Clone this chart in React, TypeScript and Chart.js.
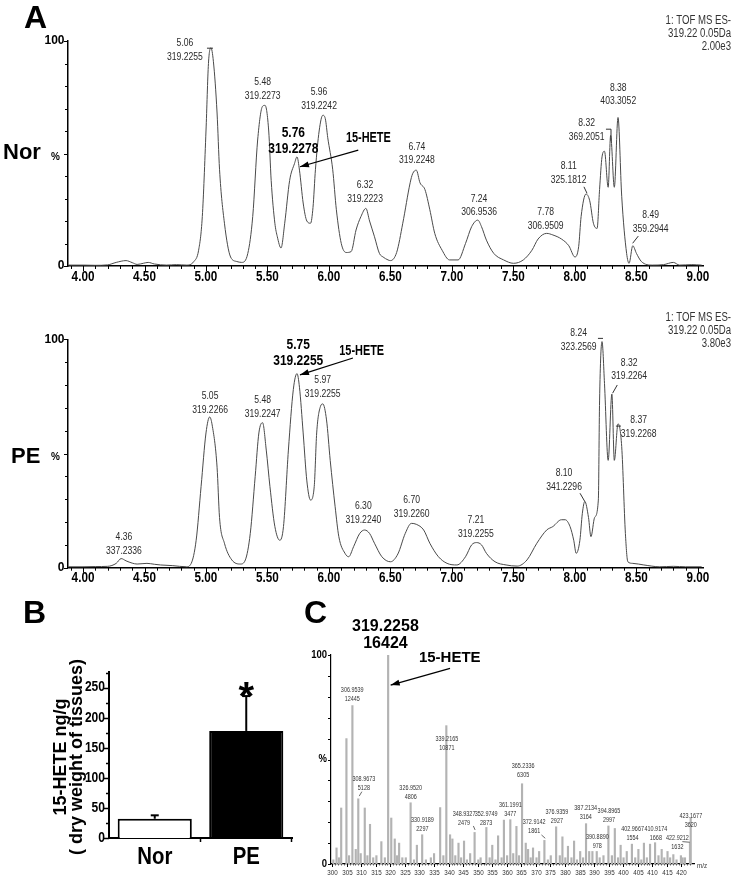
import React, { useEffect, useRef } from 'react';
import { Chart, registerables } from 'chart.js';

Chart.register(...registerables);

const FONT = 'Arial, "Liberation Sans", Helvetica, sans-serif';

// ---------------- Panel A : extracted ion chromatograms ----------------
const norTime = [3.88, 4.0, 4.1, 4.2, 4.27, 4.35, 4.4, 4.44, 4.49, 4.53, 4.58, 4.68, 4.76, 4.84, 4.9, 4.94, 4.97, 5.0, 5.02, 5.04, 5.06, 5.09, 5.11, 5.15, 5.2, 5.25, 5.29, 5.34, 5.38, 5.42, 5.46, 5.48, 5.51, 5.53, 5.56, 5.58, 5.61, 5.64, 5.68, 5.72, 5.74, 5.76, 5.79, 5.82, 5.85, 5.87, 5.89, 5.92, 5.95, 5.97, 5.99, 6.03, 6.06, 6.1, 6.14, 6.18, 6.22, 6.26, 6.3, 6.33, 6.37, 6.41, 6.44, 6.48, 6.5, 6.55, 6.6, 6.66, 6.68, 6.71, 6.74, 6.78, 6.82, 6.86, 6.92, 6.98, 7.05, 7.11, 7.16, 7.21, 7.24, 7.28, 7.34, 7.42, 7.5, 7.58, 7.65, 7.7, 7.77, 7.82, 7.89, 7.95, 8.0, 8.03, 8.05, 8.09, 8.12, 8.15, 8.18, 8.2, 8.22, 8.24, 8.27, 8.29, 8.32, 8.35, 8.38, 8.42, 8.44, 8.47, 8.5, 8.54, 8.63, 8.72, 8.8, 8.85, 8.95, 9.03];
const norPct = [0.4, 0.4, 0.3, 0.5, 1.6, 2.4, 1.5, 0.7, 1.2, 1.6, 0.9, 0.4, 0.6, 0.4, 1.9, 7, 22, 60, 90, 97, 91, 68, 43, 19, 4, 2, 1.6, 5.6, 22, 56, 71, 71.4, 60, 38, 19, 13, 8, 19, 38, 45.6, 48.5, 42.6, 28, 20, 19, 26, 43, 60, 67, 65.5, 57, 43, 25, 10, 6, 6.4, 16, 22, 25.6, 20, 13, 5.6, 4, 2.7, 2.4, 6, 19, 37, 41, 42.6, 37, 34, 25, 14.5, 7, 2.7, 2.7, 10, 17.5, 20.4, 17.5, 11.5, 5.6, 2.7, 1.2, 2.7, 7, 12, 14.5, 13.8, 12, 9, 4, 8.6, 22, 32, 29, 19, 16.7, 34, 48.5, 51, 35, 58, 35, 66, 31, 5.6, 1.2, 9, 5.6, 2, 0.4, 0.6, 1.6, 0.4, 0.6, 0.4];

const peTime = [3.88, 4.0, 4.1, 4.2, 4.27, 4.31, 4.35, 4.4, 4.44, 4.52, 4.58, 4.63, 4.73, 4.84, 4.88, 4.92, 4.96, 5.0, 5.03, 5.05, 5.09, 5.11, 5.15, 5.21, 5.28, 5.32, 5.36, 5.4, 5.43, 5.46, 5.49, 5.52, 5.56, 5.6, 5.63, 5.67, 5.71, 5.74, 5.76, 5.79, 5.82, 5.85, 5.88, 5.9, 5.93, 5.95, 5.98, 6.01, 6.05, 6.08, 6.13, 6.16, 6.2, 6.25, 6.29, 6.33, 6.37, 6.43, 6.5, 6.56, 6.62, 6.67, 6.71, 6.77, 6.82, 6.89, 6.96, 7.04, 7.11, 7.16, 7.2, 7.24, 7.28, 7.35, 7.44, 7.53, 7.61, 7.69, 7.77, 7.82, 7.89, 7.92, 7.96, 7.99, 8.01, 8.04, 8.06, 8.08, 8.11, 8.13, 8.16, 8.19, 8.2, 8.22, 8.24, 8.27, 8.3, 8.32, 8.35, 8.38, 8.41, 8.43, 8.47, 8.56, 8.69, 8.8, 8.9, 9.03];
const pePct = [0.4, 0.4, 0.5, 0.6, 1.9, 4, 3, 2, 1.6, 1.9, 1.5, 1.2, 0.9, 0.4, 1.9, 12, 35.5, 59, 66, 62.5, 44, 22, 10.7, 3.4, 1.6, 3.4, 15, 40, 59, 63.5, 51.5, 35.5, 18, 12, 18, 51.5, 78, 85, 79, 59, 38, 29.6, 35.5, 59, 70.5, 71.7, 64.7, 47, 26.7, 13.6, 6.3, 4.8, 9.2, 15, 16.5, 15, 10.7, 4.8, 2.6, 6, 15, 19.4, 19, 16.5, 10.7, 4.8, 1.9, 1.2, 4.8, 10, 11, 10, 6.3, 2.6, 1.2, 0.7, 3.4, 10.7, 16.5, 18, 21, 21, 18, 12, 6.3, 12, 23.8, 29, 22, 13.6, 22, 29.6, 73, 99, 80.7, 47, 76, 47, 63, 53, 15, 2.6, 1.9, 1.2, 0.4, 0.6, 0.4, 0.4];

const chromTickLabels = ['4.00', '4.50', '5.00', '5.50', '6.00', '6.50', '7.00', '7.50', '8.00', '8.50', '9.00'];
const chromYTickValues = [0, 48.5, 100];
const chromYTickLabels = ['0', '%', '100'];
const norHeader = ['1: TOF MS ES-', '319.22 0.05Da', '2.00e3'];
const peHeader = ['1: TOF MS ES-', '319.22 0.05Da', '3.80e3'];
const heteLabel = '15-HETE';

const norAnnTime = [4.829, 5.461, 5.919, 5.71, 6.293, 6.715, 7.22, 7.762, 7.949, 8.095, 8.352, 8.615];
const norAnnPct = [99.0, 81.8, 77.4, 59.2, 36.0, 53.0, 30.0, 24.1, 44.4, 63.6, 79.3, 22.6];
const norAnnRt = ['5.06', '5.48', '5.96', '5.76', '6.32', '6.74', '7.24', '7.78', '8.11', '8.32', '8.38', '8.49'];
const norAnnMass = ['319.2255', '319.2273', '319.2242', '319.2278', '319.2223', '319.2248', '306.9536', '306.9509', '325.1812', '369.2051', '403.3052', '359.2944'];
const norAnnBold = [false, false, false, true, false, false, false, false, false, false, false, false];
const norHeteAt = [6.32, 56.7];
const norArrow = [6.238, 51.5, 5.764, 44.1];
const norLeaders = [[5.008, 96.8, 5.057, 96.8], [8.073, 35.2, 8.098, 32.3], [8.252, 60.8, 8.293, 60.8], [8.293, 60.8, 8.293, 55.5], [8.469, 10.1, 8.515, 13.3]];

const peAnnTime = [4.333, 5.033, 5.461, 5.75, 5.949, 6.279, 6.672, 7.195, 7.911, 8.03, 8.441, 8.518];
const peAnnPct = [13.3, 75.2, 73.4, 97.5, 82.2, 27.0, 29.6, 20.9, 41.3, 102.6, 89.8, 64.7];
const peAnnRt = ['4.36', '5.05', '5.48', '5.75', '5.97', '6.30', '6.70', '7.21', '8.10', '8.24', '8.32', '8.37'];
const peAnnMass = ['337.2336', '319.2266', '319.2247', '319.2255', '319.2255', '319.2240', '319.2260', '319.2255', '341.2296', '323.2569', '319.2264', '319.2268'];
const peAnnBold = [false, false, false, true, false, false, false, false, false, false, false, false];
const peHeteAt = [6.266, 94.6];
const peArrow = [6.195, 91.8, 5.764, 84.4];
const peLeaders = [[8.187, 100.4, 8.228, 100.4], [8.344, 80.0, 8.306, 76.4], [8.333, 62.0, 8.374, 62.0], [8.041, 32.6, 8.081, 28.9]];

// ---------------- Panel B : 15-HETE content ----------------
const groupLabels = ['Nor', 'PE'];
const groupMeans = [32, 178];
const groupErrors = [5.7, 58];
const groupSig = ['', '*'];
const bYTickLabels = ['0', '50', '100', '150', '200', '250'];
const bYTitle = ['15-HETE ng/g', '( dry weight of tissues)'];

// ---------------- Panel C : mass spectrum ----------------
const specMz = [300.4, 301.5, 302.3, 303.1, 304.9, 305.8, 306.95, 308.1, 308.97, 309.8, 311.2, 312.1, 313.0, 314.1, 315.2, 316.9, 318.1, 319.23, 320.3, 321.5, 322.3, 323.0, 324.1, 325.3, 326.95, 328.1, 329.1, 330.92, 332.2, 333.9, 335.0, 337.1, 338.2, 339.22, 340.5, 341.3, 342.3, 343.4, 344.3, 345.3, 346.3, 347.4, 348.93, 350.2, 351.0, 352.97, 354.1, 355.0, 356.1, 357.0, 358.2, 359.0, 360.1, 361.2, 362.2, 363.3, 364.2, 365.23, 366.5, 367.3, 368.2, 369.0, 370.2, 371.1, 372.91, 374.1, 375.1, 376.94, 378.2, 379.1, 380.1, 381.0, 382.2, 383.1, 384.1, 385.2, 386.2, 387.21, 388.3, 389.4, 390.89, 391.9, 393.2, 394.9, 396.1, 397.1, 398.2, 399.1, 400.1, 401.2, 402.97, 404.1, 405.2, 406.2, 407.1, 408.1, 409.2, 410.92, 412.1, 413.2, 414.1, 415.2, 416.1, 417.2, 418.3, 419.8, 420.4, 421.2, 422.92, 423.17];
const specPct = [2, 7.7, 3, 26.8, 60, 4, 75.8, 7, 31.2, 5, 26.8, 4, 19, 3, 4, 10.7, 3, 100, 22, 12, 4, 10, 3, 3, 29.3, 2, 9, 14, 2, 3, 5, 27, 4, 66.2, 14, 12, 4, 10, 3, 11, 2, 5, 15.1, 2, 3, 17.5, 3, 9, 2, 13.5, 3, 21, 4, 21.2, 5, 18, 4, 38.4, 10, 7, 3, 7.7, 3, 6, 11.3, 2, 4, 17.8, 4, 13, 3, 8.5, 3, 11, 2, 6, 3, 19.3, 6, 6, 6, 3, 4, 18.2, 4, 17, 3, 9, 3, 6, 9.5, 3, 7, 2, 10, 3, 9.5, 10.2, 4, 7, 3, 6, 3, 4.5, 2, 4, 3, 3, 9.9, 22];
const specTickLabels = ['300', '305', '310', '315', '320', '325', '330', '335', '340', '345', '350', '355', '360', '365', '370', '375', '380', '385', '390', '395', '400', '405', '410', '415', '420'];
const specYTickValues = [0, 50, 100];
const specYTickLabels = ['0', '%', '100'];
const specAnnMz = [306.9, 339.4, 310.9, 327.0, 331.0, 345.3, 352.9, 361.2, 365.6, 369.4, 377.2, 387.1, 395.1, 391.1, 403.2, 411.2, 418.6, 423.2];
const specAnnPct = [83.3, 59.7, 40.5, 36.2, 21.1, 23.8, 23.8, 28.2, 46.9, 20.2, 25.0, 26.7, 25.5, 13.1, 16.6, 16.6, 12.3, 23.0];
const specAnnMass = ['306.9539', '339.2165', '308.9673', '326.9520', '330.9189', '348.9327', '352.9749', '361.1991', '365.2336', '372.9142', '376.9359', '387.2134', '394.8965', '390.8890', '402.9667', '410.9174', '422.9212', '423.1677'];
const specAnnInt = ['12445', '10871', '5128', '4806', '2297', '2479', '2873', '3477', '6305', '1861', '2927', '3164', '2997', '978', '1554', '1668', '1632', '3620'];
const specMainLabel = ['319.2258', '16424'];
const specMainAt = [318.3, 113.5];
const specHeteAt = [340.4, 98.4];
const specArrow = [340.5, 93.6, 320.1, 85.6];
const specLeaders = [[310.2, 34.6, 309.3, 32.5], [348.5, 18.2, 349.1, 16.3], [371.9, 13.9, 373.2, 12.3], [420.3, 10.7, 422.9, 10.4]];

// ---------------- drawing helpers ----------------
function txt(ctx: any, s: string, x: number, y: number, size: number, opt: any = {}) {
  ctx.save();
  ctx.font = `${opt.bold ? 'bold ' : ''}${size}px ${FONT}`;
  ctx.fillStyle = opt.color || '#000';
  ctx.textAlign = opt.align || 'center';
  ctx.textBaseline = opt.baseline || 'middle';
  ctx.translate(x, y);
  ctx.scale(opt.sx || 1, 1);
  ctx.fillText(s, 0, 0);
  ctx.restore();
}

function seg(ctx: any, x1: number, y1: number, x2: number, y2: number, w = 1, color = '#000') {
  ctx.save();
  ctx.strokeStyle = color;
  ctx.lineWidth = w;
  ctx.beginPath();
  ctx.moveTo(x1, y1);
  ctx.lineTo(x2, y2);
  ctx.stroke();
  ctx.restore();
}

function arrow(ctx: any, x1: number, y1: number, x2: number, y2: number, color = '#000') {
  seg(ctx, x1, y1, x2, y2, 1.2, color);
  const a = Math.atan2(y2 - y1, x2 - x1);
  const len = 9;
  const hw = 3;
  ctx.save();
  ctx.fillStyle = color;
  ctx.beginPath();
  ctx.moveTo(x2, y2);
  ctx.lineTo(x2 - len * Math.cos(a) + hw * Math.sin(a), y2 - len * Math.sin(a) - hw * Math.cos(a));
  ctx.lineTo(x2 - len * Math.cos(a) - hw * Math.sin(a), y2 - len * Math.sin(a) + hw * Math.cos(a));
  ctx.closePath();
  ctx.fill();
  ctx.restore();
}

function chromPlugin(spec: any) {
  return {
    id: 'chromDecor',
    afterDraw(chart: any) {
      const ctx = chart.ctx;
      const xs = chart.scales.x;
      const ys = chart.scales.y;
      const a = chart.chartArea;
      const X = (v: number) => xs.getPixelForValue(v);
      const Y = (v: number) => ys.getPixelForValue(v);
      // tick marks
      for (let k = 39; k <= 90; k++) {
        const px = Math.round(X(k / 10)) + 0.5;
        seg(ctx, px, a.bottom, px, a.bottom + (k % 5 === 0 ? 5 : 3), 1);
      }
      for (let k = 0; k <= 10; k++) {
        const py = Math.round(Y(k * 10)) + 0.5;
        seg(ctx, a.left - (k % 5 === 0 ? 4 : 3), py, a.left, py, 1);
      }
      // tick labels
      chromTickLabels.forEach((l) => txt(ctx, l, X(parseFloat(l)), a.bottom + 10.5, 15, { bold: true, sx: 0.78 }));
      chromYTickLabels.forEach((l, i) => {
        const pct = l === '%';
        txt(ctx, l, a.left - (pct ? 8 : 3.5), Y(chromYTickValues[i]), pct ? 10 : 12, { bold: true, align: 'right' });
      });
      // peak annotations
      spec.t.forEach((t: number, i: number) => {
        const x = X(t);
        const y = Y(spec.p[i]);
        if (spec.bold[i]) {
          txt(ctx, spec.rt[i], x, y, 15, { bold: true, sx: 0.8 });
          txt(ctx, spec.mass[i], x, y + 16, 15, { bold: true, sx: 0.8 });
        } else {
          txt(ctx, spec.rt[i], x, y, 11, { sx: 0.78, color: '#2a2a2a' });
          txt(ctx, spec.mass[i], x, y + 13.7, 11, { sx: 0.78, color: '#2a2a2a' });
        }
      });
      spec.leaders.forEach((s: number[]) => seg(ctx, X(s[0]), Y(s[1]), X(s[2]), Y(s[3]), 1, '#333'));
      txt(ctx, heteLabel, X(spec.hete[0]), Y(spec.hete[1]), 14, { bold: true, sx: 0.78 });
      arrow(ctx, X(spec.arrow[0]), Y(spec.arrow[1]), X(spec.arrow[2]), Y(spec.arrow[3]));
      spec.header.forEach((h: string, i: number) => txt(ctx, h, chart.width - 6, spec.headerTop + i * 13, 12, { sx: 0.8, align: 'right', color: '#333' }));
    },
  };
}

function chromConfig(times: number[], pcts: number[], spec: any, padTop: number, xHeight: number) {
  return {
    type: 'line',
    data: {
      datasets: [
        {
          data: times.map((t, i) => ({ x: t, y: pcts[i] })),
          borderColor: '#4a4a4a',
          borderWidth: 1,
          pointRadius: 0,
          cubicInterpolationMode: 'monotone',
          fill: false,
        },
      ],
    },
    options: {
      responsive: false,
      animation: false,
      events: [],
      layout: { padding: { top: padTop, right: 34, left: 0, bottom: 0 } },
      plugins: { legend: { display: false }, tooltip: { enabled: false } },
      scales: {
        x: {
          type: 'linear',
          min: 3.878,
          max: 9.041,
          grid: { display: false },
          border: { display: true, color: '#000', width: 1.5 },
          ticks: { display: false },
          afterFit: (s: any) => { s.height = xHeight; },
        },
        y: {
          min: 0,
          max: 100,
          grid: { display: false },
          border: { display: true, color: '#000', width: 1.5 },
          ticks: { display: false },
          afterFit: (s: any) => { s.width = 68; },
        },
      },
    },
    plugins: [chromPlugin(spec)],
  };
}

function buildNor() {
  return chromConfig(norTime, norPct, {
    t: norAnnTime, p: norAnnPct, rt: norAnnRt, mass: norAnnMass, bold: norAnnBold,
    hete: norHeteAt, arrow: norArrow, leaders: norLeaders, header: norHeader, headerTop: 20.5,
  }, 41, 29);
}

function buildPe() {
  return chromConfig(peTime, pePct, {
    t: peAnnTime, p: peAnnPct, rt: peAnnRt, mass: peAnnMass, bold: peAnnBold,
    hete: peHeteAt, arrow: peArrow, leaders: peLeaders, header: peHeader, headerTop: 22.3,
  }, 44.3, 27.3);
}

const barPlugin = {
  id: 'barDecor',
  afterDraw(chart: any) {
    const ctx = chart.ctx;
    const xs = chart.scales.x;
    const ys = chart.scales.y;
    const a = chart.chartArea;
    const Y = (v: number) => ys.getPixelForValue(v);
    for (let k = 0; k <= 11; k++) {
      const py = Math.round(Y(k * 25)) + 0.5;
      seg(ctx, a.left - (k % 2 === 0 ? 5 : 3), py, a.left, py, 1.5);
    }
    const mid = (xs.getPixelForValue(0) + xs.getPixelForValue(1)) / 2;
    seg(ctx, mid, a.bottom, mid, a.bottom + 4, 1.5);
    seg(ctx, a.right - 0.5, a.bottom, a.right - 0.5, a.bottom + 4, 1.5);
    bYTickLabels.forEach((l) => txt(ctx, l, a.left - 4, Y(parseFloat(l)), 14, { bold: true, align: 'right', sx: 0.86 }));
    const meta = chart.getDatasetMeta(0);
    groupLabels.forEach((l, i) => {
      const bar = meta.data[i];
      const cx = bar.x;
      const top = Y(groupMeans[i]);
      const et = Y(groupMeans[i] + groupErrors[i]);
      seg(ctx, cx, top, cx, et, 2);
      seg(ctx, cx - 4, et, cx + 4, et, 2);
      if (groupSig[i]) txt(ctx, groupSig[i], cx, et + 14, 40, { bold: true, baseline: 'alphabetic' });
      txt(ctx, l, cx, a.bottom + 19, 24, { bold: true, sx: 0.85 });
    });
  },
};

function buildB() {
  return {
    type: 'bar',
    data: {
      labels: groupLabels,
      datasets: [
        {
          data: groupMeans,
          backgroundColor: ['#ffffff', '#000000'],
          borderColor: '#000',
          borderWidth: 2,
          barPercentage: 0.81,
          categoryPercentage: 1,
        },
      ],
    },
    options: {
      responsive: false,
      animation: false,
      events: [],
      layout: { padding: { top: 82, right: 8, left: 0, bottom: 0 } },
      plugins: { legend: { display: false }, tooltip: { enabled: false } },
      scales: {
        x: {
          type: 'category',
          offset: true,
          grid: { display: false },
          border: { display: true, color: '#000', width: 2 },
          ticks: { display: false },
          afterFit: (s: any) => { s.height = 42; },
        },
        y: {
          min: 0,
          max: 276,
          grid: { display: false },
          border: { display: true, color: '#000', width: 2 },
          ticks: { display: false },
          afterFit: (s: any) => { s.width = 109; },
        },
      },
    },
    plugins: [barPlugin],
  };
}

const specPlugin = {
  id: 'specDecor',
  afterDraw(chart: any) {
    const ctx = chart.ctx;
    const xs = chart.scales.x;
    const ys = chart.scales.y;
    const a = chart.chartArea;
    const X = (v: number) => xs.getPixelForValue(v);
    const Y = (v: number) => ys.getPixelForValue(v);
    for (let k = 0; k <= 10; k++) {
      const py = Math.round(Y(k * 10)) + 0.5;
      seg(ctx, a.left - 3, py, a.left, py, 1);
    }
    specTickLabels.forEach((l) => {
      const px = Math.round(X(parseFloat(l))) + 0.5;
      seg(ctx, px, a.bottom, px, a.bottom + 3, 1);
      txt(ctx, l, px, a.bottom + 9, 8, { sx: 0.78, color: '#333' });
    });
    for (let m = 301; m <= 423; m++) {
      if (m % 5 === 0) continue;
      const px = Math.round(X(m)) + 0.5;
      seg(ctx, px, a.bottom, px, a.bottom + 1.5, 0.8, '#444');
    }
    txt(ctx, 'm/z', a.right + 3, a.bottom + 2, 8, { sx: 0.78, color: '#333', align: 'left' });
    specYTickLabels.forEach((l, i) => {
      txt(ctx, l, a.left - 4, Y(specYTickValues[i]), 10, { bold: true, align: 'right', sx: 0.95 });
    });
    specAnnMz.forEach((m, i) => {
      txt(ctx, specAnnMass[i], X(m), Y(specAnnPct[i]), 7, { sx: 0.78, color: '#333' });
      txt(ctx, specAnnInt[i], X(m), Y(specAnnPct[i]) + 9, 7, { sx: 0.78, color: '#333' });
    });
    specLeaders.forEach((s) => seg(ctx, X(s[0]), Y(s[1]), X(s[2]), Y(s[3]), 0.8, '#444'));
    txt(ctx, specMainLabel[0], X(specMainAt[0]), Y(specMainAt[1]), 16, { bold: true });
    txt(ctx, specMainLabel[1], X(specMainAt[0]), Y(specMainAt[1]) + 16.6, 16, { bold: true });
    txt(ctx, heteLabel, X(specHeteAt[0]), Y(specHeteAt[1]), 15, { bold: true });
    arrow(ctx, X(specArrow[0]), Y(specArrow[1]), X(specArrow[2]), Y(specArrow[3]));
  },
};

function buildC() {
  return {
    type: 'bar',
    data: {
      datasets: [
        {
          data: specMz.map((m, i) => ({ x: m, y: specPct[i] })),
          backgroundColor: '#b3b3b3',
          borderWidth: 0,
          barThickness: 1.5,
        },
      ],
    },
    options: {
      responsive: false,
      animation: false,
      events: [],
      layout: { padding: { top: 60, right: 43, left: 0, bottom: 0 } },
      plugins: { legend: { display: false }, tooltip: { enabled: false } },
      scales: {
        x: {
          type: 'linear',
          min: 299.6,
          max: 424.3,
          offset: false,
          grid: { display: false },
          border: { display: true, color: '#000', width: 1.2 },
          ticks: { display: false },
          afterFit: (s: any) => { s.height = 16; },
        },
        y: {
          min: 0,
          max: 100,
          grid: { display: false },
          border: { display: true, color: '#000', width: 1.2 },
          ticks: { display: false },
          afterFit: (s: any) => { s.width = 41; },
        },
      },
    },
    plugins: [specPlugin],
  };
}

function ChartBox({ left, top, width, height, build }: any) {
  const ref = useRef<HTMLCanvasElement>(null);
  useEffect(() => {
    const chart = new Chart(ref.current as HTMLCanvasElement, build() as any);
    return () => chart.destroy();
  }, []);
  return (
    <div style={{ position: 'absolute', left, top, width, height }}>
      <canvas ref={ref} width={width} height={height} style={{ width, height, display: 'block' }} />
    </div>
  );
}

function Label({ text, left, baseline, size }: any) {
  return (
    <div
      style={{
        position: 'absolute',
        left,
        top: baseline - 0.8465 * size,
        font: `bold ${size}px ${FONT}`,
        lineHeight: `${size}px`,
        whiteSpace: 'nowrap',
        color: '#000',
      }}
    >
      {text}
    </div>
  );
}

export default function App() {
  return (
    <div style={{ position: 'absolute', left: 0, top: 0, width: 737, height: 880, background: '#fff', overflow: 'hidden' }}>
      <ChartBox left={0} top={0} width={737} height={295} build={buildNor} />
      <ChartBox left={0} top={295} width={737} height={300} build={buildPe} />
      <ChartBox left={0} top={590} width={300} height={290} build={buildB} />
      <ChartBox left={290} top={595} width={447} height={285} build={buildC} />
      <Label text="A" left={24} baseline={28} size={32} />
      <Label text="Nor" left={3} baseline={159.5} size={22} />
      <Label text="PE" left={11} baseline={463.5} size={22} />
      <Label text="B" left={23} baseline={623} size={32} />
      <Label text="C" left={304} baseline={623} size={32} />
      <div
        style={{
          position: 'absolute',
          left: 67.5 - 115,
          top: 757 - 16,
          width: 230,
          height: 32,
          transform: 'rotate(-90deg)',
          transformOrigin: 'center',
          textAlign: 'center',
          font: `bold 18px ${FONT}`,
          lineHeight: '16px',
          whiteSpace: 'nowrap',
          color: '#000',
        }}
      >
        <div>{bYTitle[0]}</div>
        <div>{bYTitle[1]}</div>
      </div>
    </div>
  );
}
